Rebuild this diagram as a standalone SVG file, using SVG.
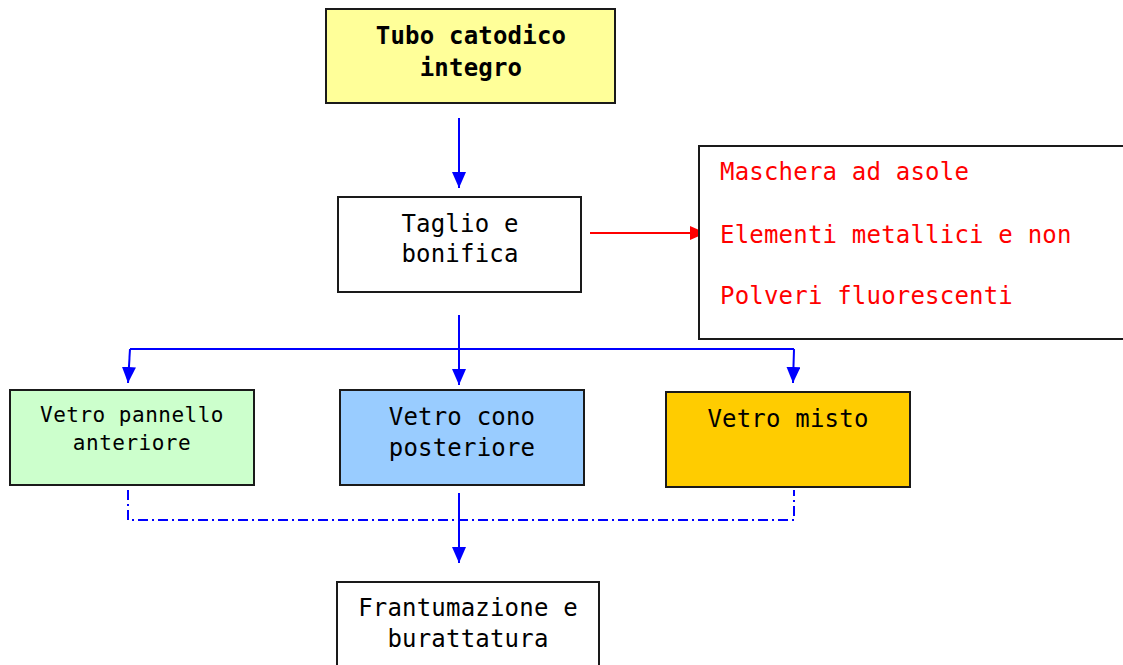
<svg xmlns="http://www.w3.org/2000/svg" width="1123" height="665" viewBox="0 0 1123 665">
<defs>
<marker id="ab" markerWidth="16" markerHeight="14" refX="16" refY="7" orient="auto" markerUnits="userSpaceOnUse" viewBox="0 0 16 14">
<path d="M0,0 L16,7 L0,14 Z" fill="#0000FF"/>
</marker>
<marker id="ar" markerWidth="16" markerHeight="14" refX="16" refY="7" orient="auto" markerUnits="userSpaceOnUse" viewBox="0 0 16 14">
<path d="M0,0 L16,7 L0,14 Z" fill="#FF0000"/>
</marker>
</defs>
<style>
.box{stroke:#1a1a1a;stroke-width:2}
.t{font-family:"DejaVu Sans Mono","Liberation Mono",monospace;font-size:24px;fill:#000;text-anchor:middle;letter-spacing:0.2px}
.b{font-weight:bold}
.r{fill:#FF0000;text-anchor:start}
.s{font-size:21px;letter-spacing:0.5px}
.c{stroke:#0000FF;stroke-width:2;fill:none}
.d{stroke:#0000FF;stroke-width:2;fill:none;stroke-dasharray:10,4,2,4}
</style>
<rect width="1123" height="665" fill="#fff"/>
<g id="connectors">
<line class="c" x1="459" y1="118" x2="459" y2="188" marker-end="url(#ab)"/>
<line x1="590" y1="233" x2="706" y2="233" stroke="#FF0000" stroke-width="2" marker-end="url(#ar)"/>
<line class="c" x1="459" y1="315" x2="459" y2="385" marker-end="url(#ab)"/>
<polyline class="c" points="130,349 794,349"/>
<line class="c" x1="130" y1="349" x2="128" y2="383" marker-end="url(#ab)"/>
<line class="c" x1="794" y1="349" x2="793" y2="383" marker-end="url(#ab)"/>
<polyline class="d" points="128,490 128,520 794,520 794,490"/>
<line class="c" x1="459" y1="493" x2="459" y2="563" marker-end="url(#ab)"/>
</g>
<g id="tubo">
<rect class="box" x="326" y="9" width="289" height="94" fill="#FFFF99"/>
<text class="t b" x="471" y="44">Tubo catodico</text>
<text class="t b" x="471" y="76">integro</text>
</g>
<g id="taglio">
<rect class="box" x="338" y="197" width="243" height="95" fill="#fff"/>
<text class="t" x="460" y="232">Taglio e</text>
<text class="t" x="460" y="262">bonifica</text>
</g>
<g id="scarti">
<rect class="box" x="699" y="146" width="430" height="193" fill="#fff"/>
<text class="t r" x="720" y="180">Maschera ad asole</text>
<text class="t r" x="720" y="243">Elementi metallici e non</text>
<text class="t r" x="720" y="304">Polveri fluorescenti</text>
</g>
<g id="pannello">
<rect class="box" x="10" y="390" width="244" height="95" fill="#CCFFCC"/>
<text class="t s" x="132" y="422">Vetro pannello</text>
<text class="t s" x="132" y="450">anteriore</text>
</g>
<g id="cono">
<rect class="box" x="340" y="390" width="244" height="95" fill="#99CCFF"/>
<text class="t" x="462" y="425">Vetro cono</text>
<text class="t" x="462" y="456">posteriore</text>
</g>
<g id="misto">
<rect class="box" x="666" y="392" width="244" height="95" fill="#FFCC00"/>
<text class="t" x="788" y="427">Vetro misto</text>
</g>
<g id="frantumazione">
<rect class="box" x="337" y="582" width="262" height="90" fill="#fff"/>
<text class="t" x="468" y="616">Frantumazione e</text>
<text class="t" x="468" y="647">burattatura</text>
</g>
</svg>
